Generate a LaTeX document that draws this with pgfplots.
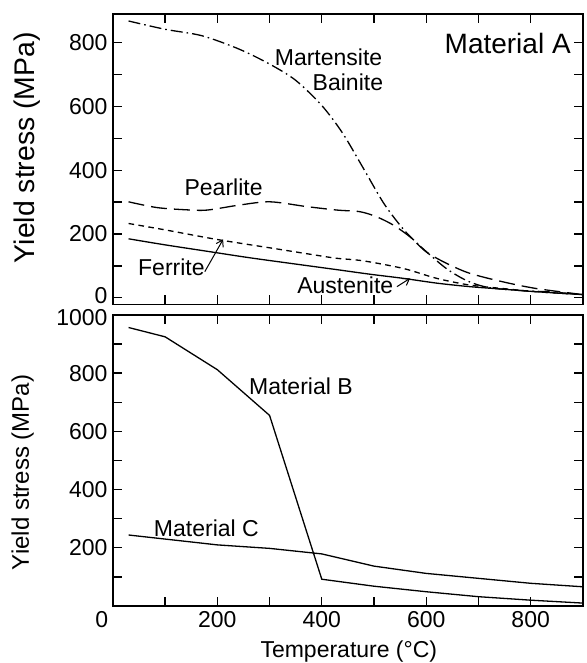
\documentclass[border=0pt]{standalone}
\usepackage{fontspec}
\setmainfont{Liberation Sans}
\usepackage{pgfplots}
\pgfplotsset{compat=1.18}
\usetikzlibrary{arrows.meta}
\tikzset{
  curve/.style={black, line width=0.65pt},
  lbl/.style={font=\fontsize{11.5}{13}\selectfont, inner sep=0pt},
}

\begin{document}
\begin{tikzpicture}
\useasboundingbox (-56.45pt,-28.5pt) rectangle (236.55pt,303pt);
\pgfplotsset{
  every axis/.append style={
    scale only axis, width=235pt,
    xmin=0, xmax=900, clip=false,
    axis line style={line width=0.9pt},
    every tick/.style={black, line width=0.7pt},
    major tick length=4.5pt, minor tick length=4.5pt,
    tick align=inside,
    /pgf/number format/assume math mode=true,
    /pgf/number format/1000 sep={},
    tick label style={font=\fontsize{11.5}{13}\selectfont, inner sep=2.5pt},
    yticklabel style={inner xsep=2.5pt, inner ysep=0pt},
    xtick={200,400,600,800}, minor xtick={100,300,500,700},
  },
}
% ---------------- top panel: Material A ----------------
\begin{axis}[
  at={(0pt,150.75pt)}, anchor=south west,
  height=145.25pt,
  ymin=-21, ymax=890,
  ytick={200,400,600,800}, minor ytick={100,300,500,700},
  extra y ticks={0},
  extra y tick style={yticklabel style={yshift=1.2pt}},
  xticklabels={},
  ylabel={Yield stress (MPa)},
  ylabel style={at={(axis description cs:-0.182,0.54)}, anchor=center, font=\fontsize{14.2}{16}\selectfont},
]
% Martensite / Bainite
\addplot[curve, smooth, dash pattern=on 6pt off 2pt on 0.8pt off 2pt] coordinates {
(30,868) (100,842) (170,822) (240,781) (300,733) (350,682) (400,603) (440,516)
(480,405) (520,293) (560,208) (600,145) (640,90) (680,52) (720,32) (780,23)
(840,18) (900,10)};
% Pearlite
\addplot[curve, smooth, dash pattern=on 8pt off 3.5pt] coordinates {
(30,301) (84,283) (140,276) (180,275) (243,291) (301,301) (371,286) (430,275)
(473,270) (505,254) (537,228) (569,191) (600,144) (639,108) (683,77) (747,50)
(811,29) (900,10)};
% Ferrite
\addplot[curve, smooth, dash pattern=on 2.8pt off 2.2pt] coordinates {
(30,233) (100,213) (199,183) (307,155) (380,136) (428,124) (479,116) (556,92)
(620,61) (683,40) (747,29) (811,19) (900,10)};
% Austenite
\addplot[curve, smooth] coordinates {
(30,185) (100,166) (180,146) (260,126) (340,108) (430,88) (492,74) (556,61)
(620,46) (683,35) (747,27) (811,19) (900,10)};
\node[lbl] at (axis cs:413,754) {Martensite};
\node[lbl] at (axis cs:450,675) {Bainite};
\node[lbl] at (axis cs:212,346) {Pearlite};
\node[lbl] at (axis cs:112,97) {Ferrite};
\node[lbl] at (axis cs:445,40) {Austenite};
\node[inner sep=0pt, font=\fontsize{14}{16}\selectfont] at (axis cs:756,798) {Material A};
\draw[-{Straight Barb[length=3pt,width=4pt]}, line width=0.5pt] (axis cs:176,82) -- (axis cs:211,183);
\draw[-{Straight Barb[length=3pt,width=4pt]}, line width=0.5pt] (axis cs:544,35) -- (axis cs:569,61);
\end{axis}
% ---------------- bottom panel: Materials B and C ----------------
\begin{axis}[
  at={(0pt,0pt)}, anchor=south west,
  height=145.5pt,
  ymin=0, ymax=1000,
  ytick={200,400,600,800}, minor ytick={100,300,500,700,900},
  extra y ticks={1000},
  extra y tick style={yticklabel style={yshift=-1.2pt}},
  xlabel={Temperature (°C)},
  xlabel style={at={(axis description cs:0.502,-0.158)}, anchor=center, font=\fontsize{11.5}{13}\selectfont},
  ylabel={Yield stress (MPa)},
  ylabel style={at={(axis description cs:-0.192,0.459)}, anchor=center, font=\fontsize{12}{14}\selectfont},
]
\addplot[curve] coordinates {
(30,957) (100,925) (200,812) (300,655) (400,92) (500,68) (600,49) (700,32) (800,20) (900,10)};
\addplot[curve] coordinates {
(30,244) (100,230) (200,210) (300,198) (400,179) (500,137) (600,112) (700,95) (800,78) (900,66)};
\node[lbl] at (axis cs:360,756) {Material B};
\node[lbl] at (axis cs:179,267) {Material C};
\node[anchor=north, inner sep=2.5pt, font=\fontsize{11.5}{13}\selectfont, xshift=-5.6pt] at (rel axis cs:0,0) {0};
\end{axis}
\end{tikzpicture}
\end{document}
